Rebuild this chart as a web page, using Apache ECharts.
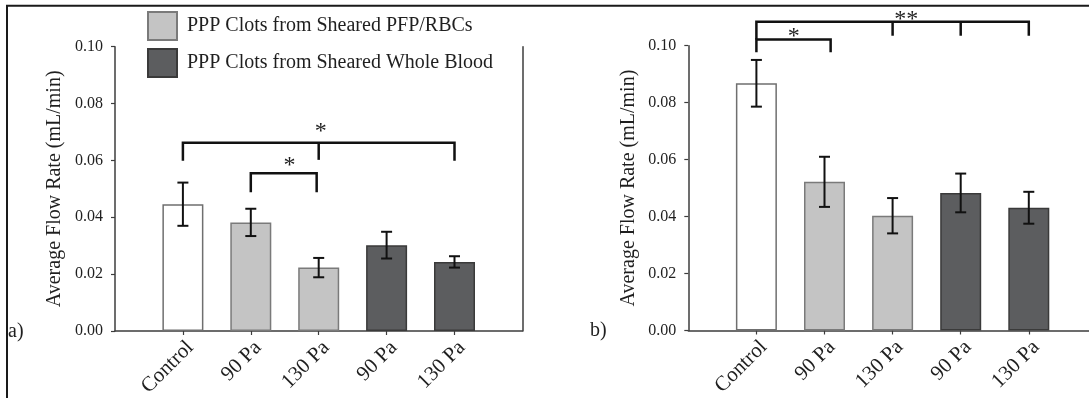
<!DOCTYPE html>
<html>
<head>
<meta charset="utf-8">
<title>Average Flow Rate of PPP Clots</title>
<script src="https://cdn.jsdelivr.net/npm/echarts@6/dist/echarts.min.js"></script>
<style>
  html, body { margin: 0; padding: 0; background: #ffffff; }
  #chart { width: 1089px; height: 398px; }
</style>
</head>
<body>
<div id="chart"></div>
<script>
// Categories along the x axis of both panels
const categories = ['Control', '90 Pa', '130 Pa', '90 Pa', '130 Pa'];
// Which group each category belongs to
const groupOf = ['control', 'pfp', 'pfp', 'wb', 'wb'];
const groupNames = {
  control: 'Control',
  pfp: 'PPP Clots from Sheared PFP/RBCs',
  wb: 'PPP Clots from Sheared Whole Blood'
};

// Panel a) mean flow rate (mL/min) and error half-widths
const flowA = [0.0446, 0.0382, 0.0223, 0.0302, 0.0243];
const errA  = [0.0076, 0.0048, 0.0034, 0.0047, 0.0020];
// Panel b) mean flow rate (mL/min) and error half-widths
const flowB = [0.0868, 0.0522, 0.0403, 0.0483, 0.0431];
const errB  = [0.0082, 0.0088, 0.0062, 0.0068, 0.0056];

// Significance brackets: span, bar height, end drops, inner ticks and star
const bracketsA = [
  { from: 1, to: 5, y: 0.0662, leftEnd: 0.0599, rightEnd: 0.0599, mids: [3], midEnd: 0.0602, star: '*', starAt: [3.03, 0.0700] },
  { from: 2, to: 2.97, y: 0.0555, leftEnd: 0.0488, rightEnd: 0.0488, mids: [], midEnd: 0, star: '*', starAt: [2.57, 0.0580] }
];
const bracketsB = [
  { from: 1, to: 5, y: 0.1084, leftEnd: 0.1022, rightEnd: 0.1035, mids: [3, 4], midEnd: 0.1035, star: '**', starAt: [3.2, 0.1092] },
  { from: 1, to: 2.09, y: 0.1022, leftEnd: 0.0977, rightEnd: 0.0977, mids: [], midEnd: 0, star: '*', starAt: [1.55, 0.1031] }
];

const FONT = '"Liberation Serif", "Times New Roman", serif';
const INK = '#1f1f1f';
const AXIS = '#3c3c3c';
const barStyles = {
  control: { color: '#ffffff', borderColor: '#6f6f6f', borderWidth: 1.5 },
  pfp: { color: '#c4c4c4', borderColor: '#7a7a7a', borderWidth: 1.5 },
  wb: { color: '#5c5d5f', borderColor: '#3a3a3a', borderWidth: 1.5 }
};

const chart = echarts.init(document.getElementById('chart'), null, { renderer: 'canvas' });

function xAxisFor(gridIndex) {
  return {
    type: 'value', gridIndex: gridIndex, min: 0, max: 6, interval: 1,
    axisLine: { show: true, lineStyle: { color: AXIS, width: 1.5 } },
    axisTick: { show: true, length: 4, customValues: [1, 2, 3, 4, 5], lineStyle: { color: AXIS, width: 1.2 } },
    axisLabel: {
      customValues: [1, 2, 3, 4, 5],
      rotate: 45, margin: 6, verticalAlign: 'top',
      fontFamily: FONT, fontSize: 21, color: INK,
      formatter: function (v) { return categories[Math.round(v) - 1] || ''; }
    },
    splitLine: { show: false }
  };
}

function yAxisFor(gridIndex) {
  return {
    type: 'value', gridIndex: gridIndex, min: 0, max: 0.1, interval: 0.02,
    name: 'Average Flow Rate (mL/min)', nameLocation: 'middle', nameGap: 50, nameRotate: 90,
    nameTextStyle: { fontFamily: FONT, fontSize: 20, color: INK },
    axisLine: { show: true, lineStyle: { color: AXIS, width: 1.5 } },
    axisTick: { show: true, length: 4, lineStyle: { color: AXIS, width: 1.2 } },
    axisLabel: {
      margin: 12, fontFamily: FONT, fontSize: 16, color: INK,
      formatter: function (v) { return v.toFixed(2); }
    },
    splitLine: { show: false }
  };
}

function barSeries(flow, axisIndex) {
  return ['control', 'pfp', 'wb'].map(function (g) {
    const data = [];
    flow.forEach(function (v, i) { if (groupOf[i] === g) data.push([i + 1, v]); });
    return {
      type: 'bar', name: groupNames[g],
      xAxisIndex: axisIndex, yAxisIndex: axisIndex === 0 ? 0 : 2,
      stack: 'panel' + axisIndex, barWidth: 41,
      itemStyle: barStyles[g], data: data, silent: true, z: 2
    };
  });
}

function errorSeries(flow, err, axisIndex) {
  return {
    type: 'custom', xAxisIndex: axisIndex, yAxisIndex: axisIndex === 0 ? 0 : 2,
    silent: true, z: 5,
    data: flow.map(function (v, i) { return [i + 1, v - err[i], v + err[i]]; }),
    encode: { x: 0, y: [1, 2] },
    renderItem: function (params, api) {
      const lo = api.coord([api.value(0), api.value(1)]);
      const hi = api.coord([api.value(0), api.value(2)]);
      const cap = 5.5;
      const st = { stroke: '#111111', lineWidth: 2, fill: null };
      return {
        type: 'group',
        children: [
          { type: 'line', shape: { x1: lo[0], y1: lo[1], x2: hi[0], y2: hi[1] }, style: st },
          { type: 'line', shape: { x1: hi[0] - cap, y1: hi[1], x2: hi[0] + cap, y2: hi[1] }, style: st },
          { type: 'line', shape: { x1: lo[0] - cap, y1: lo[1], x2: lo[0] + cap, y2: lo[1] }, style: st }
        ]
      };
    }
  };
}

function bracketSeries(specs, axisIndex) {
  return {
    type: 'custom', xAxisIndex: axisIndex, yAxisIndex: axisIndex === 0 ? 0 : 2,
    silent: true, clip: false, z: 6,
    data: specs.map(function (b) { return [b.from, b.y]; }),
    renderItem: function (params, api) {
      const b = specs[params.dataIndex];
      const c = function (x, y) { return api.coord([x, y]); };
      const st = { stroke: '#111111', lineWidth: 2.5, fill: null };
      const children = [{
        type: 'polyline',
        shape: { points: [c(b.from, b.leftEnd), c(b.from, b.y), c(b.to, b.y), c(b.to, b.rightEnd)] },
        style: st
      }];
      b.mids.forEach(function (m) {
        const p1 = c(m, b.y), p2 = c(m, b.midEnd);
        children.push({ type: 'line', shape: { x1: p1[0], y1: p1[1], x2: p2[0], y2: p2[1] }, style: st });
      });
      const s = c(b.starAt[0], b.starAt[1]);
      children.push({
        type: 'text',
        style: {
          text: b.star, x: s[0], y: s[1], textAlign: 'center', textVerticalAlign: 'middle',
          font: '24px ' + FONT, fill: INK
        }
      });
      return { type: 'group', children: children };
    }
  };
}

const option = {
  backgroundColor: '#ffffff',
  animation: false,
  grid: [
    { left: 115, top: 46.7, width: 407.4, height: 284.3, outerBoundsMode: 'none' },
    { left: 688.3, top: 45.7, width: 408.6, height: 284.8, outerBoundsMode: 'none' }
  ],
  legend: {
    data: [groupNames.pfp, groupNames.wb],
    orient: 'vertical', left: 142, top: 6,
    itemWidth: 29, itemHeight: 28, itemGap: 7,
    icon: 'rect', selectedMode: false,
    textStyle: { fontFamily: FONT, fontSize: 20, color: INK, padding: [0, 0, 0, 5] }
  },
  xAxis: [xAxisFor(0), xAxisFor(1)],
  yAxis: [
    yAxisFor(0),
    {
      type: 'value', gridIndex: 0, position: 'right', min: 0, max: 0.1,
      axisLine: { show: true, lineStyle: { color: AXIS, width: 1.5 } },
      axisTick: { show: false }, axisLabel: { show: false }, splitLine: { show: false }
    },
    yAxisFor(1)
  ],
  graphic: [
    {
      type: 'polyline', silent: true,
      shape: { points: [[7, 398], [7, 5.7], [1089, 5.7]] },
      style: { stroke: '#1a1a1a', lineWidth: 2, fill: null }
    },
    { type: 'text', left: 8, top: 322, style: { text: 'a)', font: '20px ' + FONT, fill: INK } },
    { type: 'text', left: 590, top: 321, style: { text: 'b)', font: '20px ' + FONT, fill: INK } }
  ],
  series: [].concat(
    barSeries(flowA, 0),
    [errorSeries(flowA, errA, 0), bracketSeries(bracketsA, 0)],
    barSeries(flowB, 1),
    [errorSeries(flowB, errB, 1), bracketSeries(bracketsB, 1)]
  )
};

chart.setOption(option);
</script>
</body>
</html>
